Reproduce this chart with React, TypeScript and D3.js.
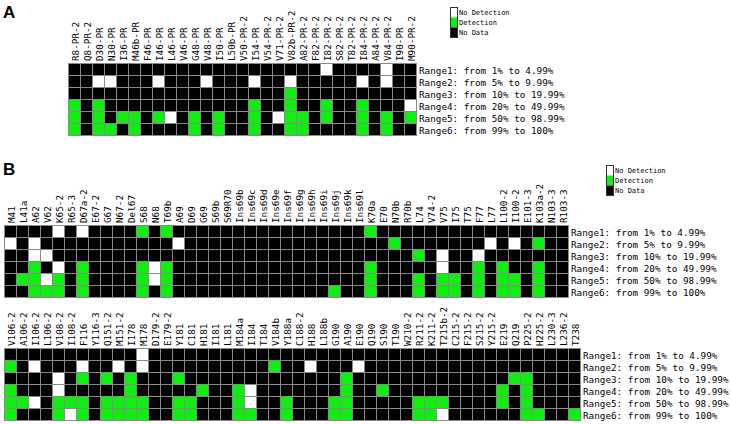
import React, { useEffect, useRef } from "react";
import * as d3 from "d3";

// rows (same for every panel)
const rangeLabels = [
  "Range1: from 1% to 4.99%",
  "Range2: from 5% to 9.99%",
  "Range3: from 10% to 19.99%",
  "Range4: from 20% to 49.99%",
  "Range5: from 50% to 98.99%",
  "Range6: from 99% to 100%",
];

// Panel A
const colsA = [
  "R8-PR-2", "Q8-PR-2", "D30-PR", "N30-PR", "I36-PR", "M46b-PR", "F46-PR", "I46-PR",
  "L46-PR", "V46-PR", "G48-PR", "V48-PR", "I50-PR", "L50b-PR", "V50-PR-2", "I54-PR",
  "V54-PR-2", "V71-PR-2", "V82b-PR-2", "A82-PR-2", "F82-PR-2", "I82-PR-2", "S82-PR-2",
  "T82-PR-2", "I84-PR-2", "A84-PR-2", "V84-PR-2", "I90-PR", "M90-PR-2",
];
const detectA = [
  [],
  [],
  ["V82b-PR-2"],
  ["R8-PR-2", "D30-PR", "I54-PR", "V82b-PR-2", "I82-PR-2", "I84-PR-2"],
  ["R8-PR-2", "D30-PR", "I36-PR", "M46b-PR", "I46-PR", "G48-PR", "I50-PR", "I54-PR",
    "V82b-PR-2", "A82-PR-2", "I82-PR-2", "I84-PR-2", "V84-PR-2", "M90-PR-2"],
  ["R8-PR-2", "D30-PR", "N30-PR", "M46b-PR", "G48-PR", "I50-PR", "I54-PR", "V82b-PR-2",
    "A82-PR-2", "I84-PR-2", "V84-PR-2"],
];
const noDetectA = [
  ["I82-PR-2", "V84-PR-2"],
  ["D30-PR", "N30-PR", "I46-PR", "V48-PR", "I54-PR", "V82b-PR-2", "I84-PR-2", "V84-PR-2"],
  [],
  ["M90-PR-2"],
  ["L46-PR", "V71-PR-2"],
  [],
];

// Panel B, first block
const colsB1 = [
  "M41", "L41a", "A62", "V62", "K65-2", "R65-3", "D67a-2", "E67-2", "G67", "N67-2",
  "Del67", "S68", "N68", "T69b", "A69", "D69", "G69", "S69b", "S69R70", "Ins69b",
  "Ins69c", "Ins69d", "Ins69e", "Ins69f", "Ins69g", "Ins69h", "Ins69i", "Ins69j",
  "Ins69k", "Ins69l", "K70a", "E70", "N70b", "R70b", "L74", "V74-2", "V75", "I75",
  "T75", "F77", "L77", "L100-2", "I100-2", "E101-3", "K103a-2", "N103-3", "R103-3",
];
const detectB1 = [
  ["S68", "T69b", "K70a"],
  ["N70b", "K103a-2"],
  ["L74"],
  ["A62", "D67a-2", "S68", "T69b", "K70a", "F77", "L100-2", "K103a-2"],
  ["L41a", "A62", "K65-2", "D67a-2", "S68", "T69b", "K70a", "L74", "V75", "I75", "F77",
    "L100-2", "I100-2", "K103a-2"],
  ["A62", "V62", "K65-2", "D67a-2", "S68", "T69b", "Ins69j", "K70a", "L74", "V75", "I75",
    "F77", "L100-2", "I100-2", "K103a-2"],
];
const noDetectB1 = [
  ["K65-2", "D67a-2"],
  ["M41", "A62", "A69", "L77", "I100-2"],
  ["A62", "V62", "V75", "F77"],
  ["K65-2", "N68", "V75"],
  ["V62", "N68"],
  [],
];

// Panel B, second block
const colsB2 = [
  "V106-2", "A106-2", "I106-2", "L106-2", "V108-2", "I108-2", "F116", "Y116-3", "Q151-2",
  "M151-2", "I178", "M178", "D179-2", "E179-2", "Y181", "C181", "H181", "I181", "L181",
  "M184a", "I184", "T184", "V184b", "Y188a", "C188-2", "H188", "L188b", "G190", "A190",
  "E190", "Q190", "S190", "T190", "W210-2", "R211-2", "K211-2", "T215b-2", "C215-2",
  "F215-2", "S215-2", "Y215-2", "E219", "Q219", "P225-2", "H225-2", "L230-3", "L236-2", "T238",
];
const detectB2 = [
  [],
  ["V106-2", "V184b"],
  ["F116", "Q151-2", "I178", "Y181", "A190", "Q219", "P225-2"],
  ["V106-2", "I178", "H181", "M184a", "A190", "S190", "E219", "P225-2"],
  ["V106-2", "A106-2", "V108-2", "I108-2", "F116", "Q151-2", "M151-2", "I178", "M178",
    "Y181", "C181", "M184a", "Y188a", "G190", "A190", "R211-2", "K211-2", "T215b-2",
    "E219", "P225-2"],
  ["V106-2", "V108-2", "F116", "Q151-2", "M151-2", "I178", "M178", "Y181", "C181",
    "M184a", "I184", "Y188a", "G190", "A190", "R211-2", "K211-2", "P225-2", "H225-2", "T238"],
];
const noDetectB2 = [
  ["M178"],
  ["I106-2", "F116", "M151-2", "M178", "H188", "E190"],
  ["V108-2"],
  ["V108-2", "I184"],
  ["I106-2", "I184"],
  ["I108-2", "T215b-2"],
];

const legendItems = ["No Detection", "Detection", "No Data"];
const colors = { nodet: "#ffffff", det: "#11ee11", nodata: "#000000" };
const mono = "'DejaVu Sans Mono', monospace";
const cell = 12;

function drawPanel(svg, cols, x0, y0, detect, noDetect) {
  const x = d3.scaleBand().domain(cols).range([x0, x0 + cols.length * cell]);
  const y = d3.scaleBand().domain(rangeLabels).range([y0, y0 + rangeLabels.length * cell]);
  const g = svg.append("g");

  const cells = [];
  rangeLabels.forEach((r, i) => {
    cols.forEach((c) => {
      let s = "nodata";
      if (detect[i].includes(c)) s = "det";
      else if (noDetect[i].includes(c)) s = "nodet";
      cells.push({ r, c, s });
    });
  });

  g.selectAll("rect")
    .data(cells)
    .enter()
    .append("rect")
    .attr("x", (d) => x(d.c) + 0.5)
    .attr("y", (d) => y(d.r) + 0.5)
    .attr("width", x.bandwidth())
    .attr("height", y.bandwidth())
    .attr("fill", (d) => colors[d.s])
    .attr("stroke", "#8a8a8a")
    .attr("stroke-width", 1);

  // column labels, rotated
  g.selectAll("text.col")
    .data(cols)
    .enter()
    .append("text")
    .attr("class", "col")
    .attr("transform", (d) => "translate(" + (x(d) + x.bandwidth() / 2 + 1) + "," + (y0 - 2) + ") rotate(-90)")
    .attr("dominant-baseline", "central")
    .style("font-family", mono)
    .style("font-size", "9.3px")
    .text((d) => d);

  // row labels
  g.selectAll("text.row")
    .data(rangeLabels)
    .enter()
    .append("text")
    .attr("class", "row")
    .attr("x", x0 + cols.length * cell + 3)
    .attr("y", (d) => y(d) + y.bandwidth() / 2 + 1)
    .attr("dominant-baseline", "central")
    .style("font-family", mono)
    .style("font-size", "9.3px")
    .text((d) => d);
}

function drawLegend(svg, lx, ly) {
  const g = svg.append("g");
  const ly2 = d3.scaleBand().domain(legendItems).range([ly, ly + 30]);
  const fills = [colors.nodet, colors.det, colors.nodata];
  g.selectAll("rect")
    .data(legendItems)
    .enter()
    .append("rect")
    .attr("x", lx + 0.5)
    .attr("y", (d) => ly2(d) + 0.5)
    .attr("width", 7)
    .attr("height", ly2.bandwidth())
    .attr("fill", (d, i) => fills[i]);
  g.append("rect")
    .attr("x", lx + 0.5)
    .attr("y", ly + 0.5)
    .attr("width", 7)
    .attr("height", 30)
    .attr("fill", "none")
    .attr("stroke", "#333");
  g.selectAll("text")
    .data(legendItems)
    .enter()
    .append("text")
    .attr("x", lx + 9)
    .attr("y", (d) => ly2(d) + ly2.bandwidth() / 2 + 0.5)
    .attr("dominant-baseline", "central")
    .style("font-family", mono)
    .style("font-size", "7px")
    .text((d) => d);
}

export default function App() {
  const ref = useRef(null);

  useEffect(() => {
    const svg = d3.select(ref.current);
    svg.selectAll("*").remove();

    svg.append("text").attr("x", 3).attr("y", 18)
      .style("font-family", "'Liberation Sans', Arial, sans-serif")
      .style("font-weight", "bold").style("font-size", "17px").text("A");
    svg.append("text").attr("x", 3).attr("y", 175)
      .style("font-family", "'Liberation Sans', Arial, sans-serif")
      .style("font-weight", "bold").style("font-size", "17px").text("B");

    drawPanel(svg, colsA, 68, 63, detectA, noDetectA);
    drawPanel(svg, colsB1, 4, 225, detectB1, noDetectB1);
    drawPanel(svg, colsB2, 4, 348, detectB2, noDetectB2);

    drawLegend(svg, 450, 7);
    drawLegend(svg, 606, 165);
  }, []);

  return (
    <svg
      ref={ref}
      width={731}
      height={424}
      style={{ position: "absolute", left: 0, top: 0, background: "#fff" }}
    />
  );
}
